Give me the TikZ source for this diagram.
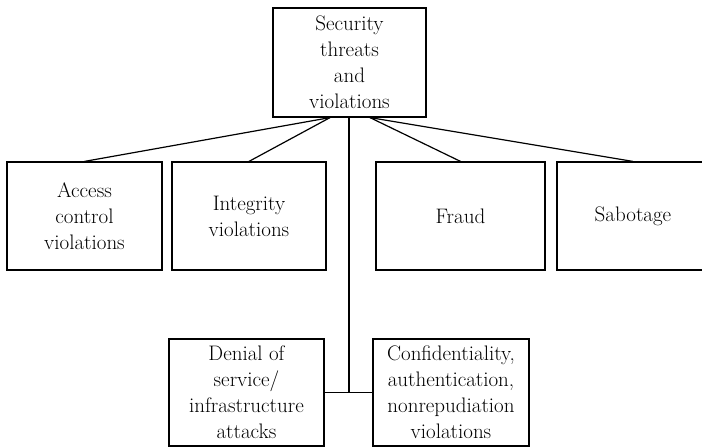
\documentclass[tikz,border=0pt]{standalone}
\usetikzlibrary{calc}
\begin{document}
\begin{tikzpicture}[x=1pt,y=-1pt,
  box/.style={draw,line width=1.2pt,align=center,inner sep=0pt,
    font=\fontsize{21}{26}\selectfont},
  conn/.style={line width=1.2pt}]
\clip (0,0) rectangle (702,447);
\node[box,minimum width=153pt,minimum height=109pt] (top) at (349.5,62.5) {Security\\threats\\and\\violations};
\node[box,minimum width=155pt,minimum height=108pt] (acc) at (84.5,216) {Access\\control\\violations};
\node[box,minimum width=154pt,minimum height=108pt] (int) at (249,216) {Integrity\\violations};
\node[box,minimum width=169pt,minimum height=108pt] (fra) at (460.5,216) {Fraud};
\node[box,minimum width=152pt,minimum height=108pt] (sab) at (633,216) {Sabotage};
\node[box,minimum width=155pt,minimum height=107pt] (den) at (246.5,392.5) {Denial of\\service/\\infrastructure\\attacks};
\node[box,minimum width=156pt,minimum height=107pt] (con) at (451,392.5) {Confidentiality,\\authentication,\\nonrepudiation\\violations};
\coordinate (hubL) at ($(top.south)+(-19.5,0)$);
\coordinate (hubR) at ($(top.south)+(20.5,0)$);
\coordinate (hubV) at ($(top.south)+(-0.5,0)$);
\draw[conn] (hubL) -- (acc.north);
\draw[conn] (hubL) -- (int.north);
\draw[conn] (hubR) -- (fra.north);
\draw[conn] (hubR) -- (sab.north);
\draw[conn] (den.east) -- (con.west);
\draw[conn] (hubV) -- (hubV |- den.east);
\end{tikzpicture}
\end{document}
